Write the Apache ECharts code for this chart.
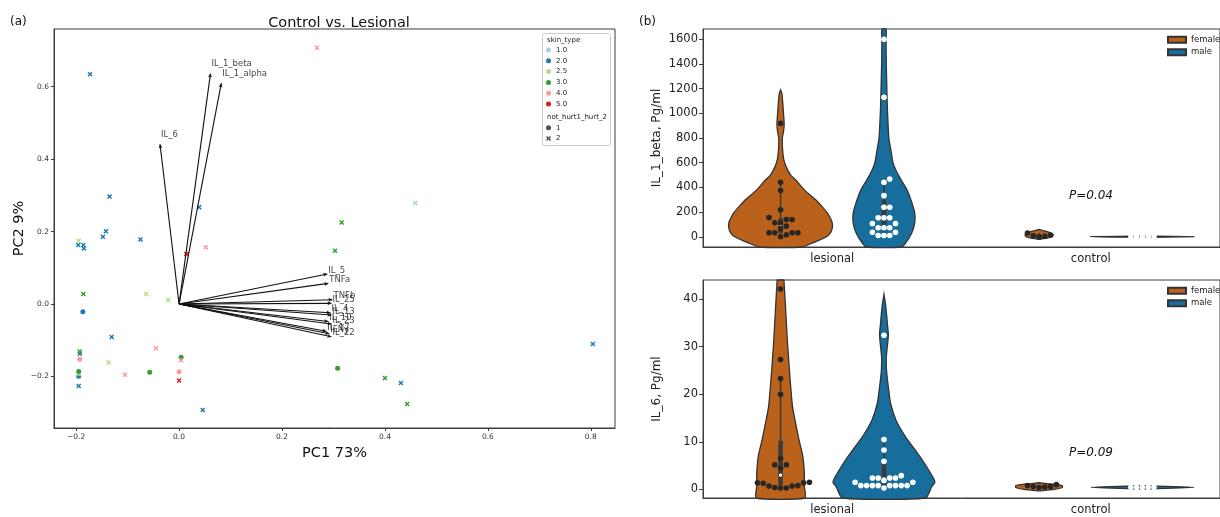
<!DOCTYPE html>
<html>
<head>
<meta charset="utf-8">
<script src="https://cdn.jsdelivr.net/npm/echarts@6/dist/echarts.min.js"></script>
<style>
  html, body { margin: 0; padding: 0; background: #fff; }
  #main { width: 1220px; height: 517px; }
</style>
</head>
<body>
<div id="main"></div>
<script>
// ---------- (a) PCA biplot data ----------
const pc1 = [-0.173, 0.268, -0.135, 0.039, 0.316, 0.459, 0.303, -0.142, -0.148, -0.195,
  -0.196, -0.186, -0.185, -0.075, 0.014, 0.052, -0.186, -0.064, -0.021, -0.187,
  -0.131, -0.045, -0.193, -0.193, -0.193, -0.137, 0.004, 0.004, -0.195, -0.195,
  -0.195, -0.105, -0.057, 0.0, 0.0, -0.195, 0.046, 0.308, 0.400, 0.431, 0.443, 0.804];
const pc2 = [0.634, 0.707, 0.297, 0.267, 0.225, 0.279, 0.147, 0.201, 0.186, 0.175,
  0.163, 0.163, 0.153, 0.178, 0.138, 0.157, 0.028, 0.028, 0.011, -0.021,
  -0.091, -0.122, -0.137, -0.131, -0.152, -0.161, -0.155, -0.147, -0.186, -0.193,
  -0.199, -0.195, -0.188, -0.187, -0.211, -0.226, -0.292, -0.177, -0.204, -0.218, -0.276, -0.110];
const skinType = [2, 4, 2, 2, 3, 1, 3, 2, 2, 2.5,
  2, 2, 2, 2, 5, 4, 3, 2.5, 2.5, 2,
  2, 4, 2, 3, 4, 2.5, 4, 3, 3, 2.5,
  2, 4, 3, 4, 5, 2, 2, 3, 3, 2, 3, 2];
const hurt = [2, 2, 2, 2, 2, 2, 2, 2, 2, 2,
  2, 2, 2, 2, 2, 2, 2, 2, 2, 1,
  2, 2, 2, 2, 1, 2, 2, 1, 1, 2,
  1, 2, 1, 1, 2, 2, 2, 1, 2, 2, 2, 2];
const skinLevels = [1, 2, 2.5, 3, 4, 5];
const hurtLevels = [1, 2];

const loadingNames = ['IL_1_beta', 'IL_1_alpha', 'IL_6', 'IL_5', 'TNFa', 'TNFb', 'IL_25',
  'IL_4', 'IL_13', 'IL_10', 'IL_23', 'IL_17', 'IFNy', 'IL_22'];
const loadingPC1 = [0.061, 0.082, -0.037, 0.288, 0.290, 0.298, 0.296,
  0.294, 0.296, 0.290, 0.296, 0.286, 0.292, 0.296];
const loadingPC2 = [0.636, 0.609, 0.441, 0.083, 0.057, 0.012, 0.002,
  -0.024, -0.030, -0.048, -0.055, -0.075, -0.082, -0.090];

// ---------- (b) violin data ----------
const groups = ['lesional', 'control'];
const sexes = ['female', 'male'];

// IL_1_beta, Pg/ml
const il1bFemaleLes = [920, 441, 374, 218, 156, 140, 140, 113, 113, 86, 64, 32, 32, 32, 32, 15, 0];
const il1bMaleLes = [1600, 1130, 468, 441, 333, 239, 239, 153, 153, 153, 107, 107, 73, 73, 73, 37, 37, 10, 10, 10];
const il1bFemaleCtl = [30, 14, 8, 4, 2];
const il1bMaleCtl = [1, 1, 1, 1, 1];
// IL_6, Pg/ml
const il6FemaleLes = [42.1, 27.3, 23.3, 20, 6.5, 5.2, 5.2, 4.5, 1.5, 1.4, 1.4, 1.3, 0.8, 0.7, 0.7, 0.4, 0.3, 0.3];
const il6MaleLes = [32.4, 10.5, 8.3, 5.9, 2.9, 2.4, 2.4, 2.4, 2.4, 1.9, 1.5, 1.5, 0.8, 0.8, 0.8, 0.8, 0.8, 0.8, 0.8, 0.8, 0.3];
const il6FemaleCtl = [1.0, 0.8, 0.6, 0.6, 0.5, 0.4];
const il6MaleCtl = [0.45, 0.45, 0.45, 0.45, 0.45];

// violin outlines: [value, half width in category units]
const il1bShapeFemaleLes = [[1190, 0], [1160, 0.005], [1100, 0.008], [1040, 0.010], [980, 0.012], [920, 0.014],
  [860, 0.012], [800, 0.007], [740, 0.007], [680, 0.009], [620, 0.013], [560, 0.023], [500, 0.039], [462, 0.058],
  [380, 0.092], [301, 0.135], [250, 0.158], [194, 0.181], [150, 0.193], [113, 0.200], [70, 0.200], [32, 0.193],
  [0, 0.177], [-48, 0.127], [-90, 0.081]];
const il1bShapeMaleLes = [[1720, 0.008], [1600, 0.008], [1400, 0.009], [1130, 0.012], [1000, 0.014], [800, 0.019],
  [700, 0.027], [600, 0.035], [530, 0.048], [462, 0.066], [380, 0.089], [301, 0.104], [194, 0.119], [113, 0.119],
  [32, 0.108], [-48, 0.085], [-90, 0.069]];
const il1bShapeFemaleCtl = [[60, 0], [45, 0.025], [30, 0.045], [15, 0.054], [0, 0.05], [-12, 0.03], [-22, 0]];
const il1bShapeMaleCtl = [[6, 0], [0.5, 0.2], [-5, 0]];
const il6ShapeFemaleLes = [[46, 0.012], [44, 0.013], [38.5, 0.019], [31.5, 0.026], [24.5, 0.035], [17.5, 0.046],
  [14, 0.058], [10.5, 0.071], [7, 0.086], [3.5, 0.092], [0.7, 0.092], [-1.9, 0.094]];
const il6ShapeMaleLes = [[41, 0], [38.5, 0.007], [35, 0.013], [32.4, 0.017], [29.5, 0.012], [27.8, 0.009], [25, 0.010],
  [21.5, 0.017], [18, 0.026], [14.5, 0.047], [11, 0.084], [8.2, 0.122], [5.4, 0.158], [2.6, 0.189], [1.5, 0.197],
  [0.5, 0.184], [-1.9, 0.161]];
const il6ShapeFemaleCtl = [[1.4, 0], [1.1, 0.058], [0.8, 0.09], [0.4, 0.09], [0, 0.058], [-0.3, 0]];
const il6ShapeMaleCtl = [[0.8, 0], [0.45, 0.2], [0.1, 0]];

// inner box: [whisker low, q1, median, q3, whisker high]
const il1bBoxFemaleLes = [0, 32, 100, 150, 441];
const il1bBoxMaleLes = [10, 73, 153, 300, 468];
const il1bBoxFemaleCtl = [2, 4, 8, 14, 30];
const il1bBoxMaleCtl = [1, 1, 1, 1, 1];
const il6BoxFemaleLes = [0.3, 0.9, 3.0, 10.2, 23.3];
const il6BoxMaleLes = [0.3, 0.8, 2.2, 5.5, 10.5];
const il6BoxFemaleCtl = [0.4, 0.5, 0.6, 0.8, 1.0];
const il6BoxMaleCtl = [0.45, 0.45, 0.45, 0.45, 0.45];

const pLabels = ['P=0.04', 'P=0.09'];

// ---------- styling ----------
const FONT = 'DejaVu Sans';
const skinColors = ['#a6cee3', '#1f78b4', '#b2df8a', '#33a02c', '#fb9a99', '#e31a1c'];
const sexColors = { female: '#BA611B', male: '#176D9C' };
const dotColors = { female: '#262626', male: '#ffffff' };
const xSymbol = 'path://M2,0L5,3L8,0L10,2L7,5L10,8L8,10L5,7L2,10L0,8L3,5L0,2Z';
const frame = '#3c3c3c';

const myChart = echarts.init(document.getElementById('main'));

// scatter series, one per skin type / marker
const pcaSeries = [];
skinLevels.forEach((lvl, li) => {
  hurtLevels.forEach((h) => {
    const pts = [];
    pc1.forEach((x, i) => {
      if (skinType[i] === lvl && hurt[i] === h) pts.push([x, pc2[i]]);
    });
    pcaSeries.push({
      type: 'scatter', name: lvl.toFixed(1), xAxisIndex: 0, yAxisIndex: 0,
      symbol: h === 1 ? 'circle' : xSymbol, symbolSize: 5,
      itemStyle: { color: skinColors[li], opacity: 1 }, data: pts, z: 3,
    });
  });
});
// marker legend entries
hurtLevels.forEach((h) => {
  pcaSeries.push({
    type: 'scatter', name: String(h), xAxisIndex: 0, yAxisIndex: 0,
    symbol: h === 1 ? 'circle' : xSymbol, itemStyle: { color: '#222' }, data: [],
  });
});

// loading arrows + names
pcaSeries.push({
  type: 'scatter', name: 'loadings', xAxisIndex: 0, yAxisIndex: 0, symbolSize: 0, z: 4,
  data: loadingNames.map((n, i) => ({
    value: [loadingPC1[i], loadingPC2[i]],
    label: {
      show: true, formatter: n, position: loadingPC2[i] > 0.3 ? [1, -14] : [1, -8],
      fontSize: 8.5, fontFamily: FONT, color: '#111',
    },
  })),
  markLine: {
    silent: true, animation: false, symbol: ['none', 'arrow'], symbolSize: [3, 4],
    lineStyle: { color: '#111', width: 1.1, type: 'solid' }, label: { show: false },
    data: loadingNames.map((n, i) => [{ coord: [0, 0] }, { coord: [loadingPC1[i], loadingPC2[i]] }]),
  },
});

// ---------- violins ----------
const catPx = 519 / 2;

function swarm(values, center, pxY) {
  const d = 5.8;
  const placed = [];
  return values.slice().sort((a, b) => a - b).map((v) => {
    const y = v * pxY;
    let off = 0;
    for (let i = 0; i < 60; i++) {
      off = (i % 2 ? 1 : -1) * Math.ceil(i / 2) * d;
      if (placed.every((p) => (p[0] - off) ** 2 + (p[1] - y) ** 2 >= d * d * 0.98)) break;
    }
    placed.push([off, y]);
    return [center + off / catPx, v];
  });
}

function violinSeries(sex, xAxisIndex, yAxisIndex, center, shape) {
  return {
    type: 'custom', name: sex, xAxisIndex, yAxisIndex, z: 2,
    itemStyle: { color: sexColors[sex], borderColor: '#333', borderWidth: 1 },
    data: [[center, 0]],
    renderItem: (params, api) => {
      const right = shape.map(([v, w]) => api.coord([center + w, v]));
      const left = shape.slice().reverse().map(([v, w]) => api.coord([center - w, v]));
      const pts = echarts.graphic.clipPointsByRect(right.concat(left), params.coordSys);
      return {
        type: 'polygon', shape: { points: pts, smooth: 0.2 },
        style: { fill: sexColors[sex], stroke: '#333', lineWidth: 1.3 },
      };
    },
  };
}

function boxSeries(xAxisIndex, yAxisIndex, center, box) {
  return {
    type: 'custom', xAxisIndex, yAxisIndex, z: 3, silent: true,
    data: [[center, box[2]]],
    renderItem: (params, api) => {
      const a = api.coord([center, box[0]]);
      const b = api.coord([center, box[4]]);
      const c = api.coord([center, box[1]]);
      const d = api.coord([center, box[3]]);
      const m = api.coord([center, box[2]]);
      return {
        type: 'group', children: [
          { type: 'line', shape: { x1: a[0], y1: a[1], x2: b[0], y2: b[1] }, style: { stroke: '#3a3a3a', lineWidth: 1.5 } },
          { type: 'line', shape: { x1: c[0], y1: c[1], x2: d[0], y2: d[1] }, style: { stroke: '#3a3a3a', lineWidth: 4.5 } },
          { type: 'circle', shape: { cx: m[0], cy: m[1], r: 1.6 }, style: { fill: '#fff' } },
        ],
      };
    },
  };
}

function dotSeries(sex, xAxisIndex, yAxisIndex, center, values, pxY) {
  return {
    type: 'scatter', xAxisIndex, yAxisIndex, z: 4, silent: true,
    symbolSize: 5.6, itemStyle: { color: dotColors[sex], opacity: 1 },
    data: swarm(values, center, pxY),
  };
}

function panel(xVal, yIdx, pxY, parts) {
  const out = [];
  parts.forEach((p) => out.push(violinSeries(p.sex, xVal, yIdx, p.center, p.shape)));
  parts.forEach((p) => out.push(boxSeries(xVal, yIdx, p.center, p.box)));
  parts.forEach((p) => out.push(dotSeries(p.sex, xVal, yIdx, p.center, p.values, pxY)));
  return out;
}

const topMin = -83, topMax = 1683, botMin = -1.8, botMax = 44;
const topSeries = panel(2, 1, 218 / (topMax - topMin), [
  { sex: 'female', center: -0.2, values: il1bFemaleLes, shape: il1bShapeFemaleLes, box: il1bBoxFemaleLes },
  { sex: 'male', center: 0.2, values: il1bMaleLes, shape: il1bShapeMaleLes, box: il1bBoxMaleLes },
  { sex: 'female', center: 0.8, values: il1bFemaleCtl, shape: il1bShapeFemaleCtl, box: il1bBoxFemaleCtl },
  { sex: 'male', center: 1.2, values: il1bMaleCtl, shape: il1bShapeMaleCtl, box: il1bBoxMaleCtl },
]);
const botSeries = panel(4, 2, 218 / (botMax - botMin), [
  { sex: 'female', center: -0.2, values: il6FemaleLes, shape: il6ShapeFemaleLes, box: il6BoxFemaleLes },
  { sex: 'male', center: 0.2, values: il6MaleLes, shape: il6ShapeMaleLes, box: il6BoxMaleLes },
  { sex: 'female', center: 0.8, values: il6FemaleCtl, shape: il6ShapeFemaleCtl, box: il6BoxFemaleCtl },
  { sex: 'male', center: 1.2, values: il6MaleCtl, shape: il6ShapeMaleCtl, box: il6BoxMaleCtl },
]);

// ---------- axes helpers ----------
const fmtPC = (v) => (v < 0 ? '\u2212' : '') + Math.abs(v).toFixed(1);
const smallLabel = { fontSize: 7.5, fontFamily: FONT, color: '#333', margin: 5 };
const bigLabel = { fontSize: 11.5, fontFamily: FONT, color: '#222', margin: 5 };

function catAxis(gridIndex) {
  return {
    type: 'category', gridIndex, data: groups, boundaryGap: true,
    axisLine: { onZero: false, lineStyle: { color: frame, width: 1 } },
    axisTick: { alignWithLabel: true, length: 4, lineStyle: { color: frame } },
    axisLabel: Object.assign({}, bigLabel, { margin: 6 }),
  };
}
function hiddenX(gridIndex) {
  return { type: 'value', gridIndex, min: -0.5, max: 1.5, show: false, axisLine: { onZero: false } };
}
function violinY(gridIndex, min, max, splitNumber, name) {
  return {
    type: 'value', gridIndex, min, max, splitNumber, name,
    nameLocation: 'middle', nameGap: 40,
    nameTextStyle: { fontSize: 12, fontFamily: FONT, color: '#222' },
    splitLine: { show: false },
    axisLine: { show: true, onZero: false, lineStyle: { color: frame, width: 1 } },
    axisTick: { show: true, length: 4, lineStyle: { color: frame } },
    axisLabel: Object.assign({}, bigLabel, {
      showMinLabel: false, showMaxLabel: false, formatter: (v) => String(v),
    }),
  };
}

const option = {
  animation: false,
  backgroundColor: '#fff',
  title: {
    text: 'Control vs. Lesional', left: 334, top: 11, textAlign: 'center',
    textStyle: { fontSize: 14.5, fontWeight: 'normal', fontFamily: FONT, color: '#111' },
  },
  grid: [
    { left: 54, top: 29, width: 561, height: 399, show: true, borderColor: frame, borderWidth: 1 },
    { left: 703, top: 29, width: 519, height: 218, show: true, borderColor: frame, borderWidth: 1 },
    { left: 703, top: 280, width: 519, height: 218, show: true, borderColor: frame, borderWidth: 1 },
  ],
  xAxis: [
    {
      type: 'value', gridIndex: 0, min: -0.243, max: 0.847, splitNumber: 5,
      name: 'PC1 73%', nameLocation: 'middle', nameGap: 14,
      nameTextStyle: { fontSize: 14.5, fontFamily: FONT, color: '#111' },
      splitLine: { show: false },
      axisLine: { onZero: false, lineStyle: { color: frame } },
      axisTick: { length: 3, lineStyle: { color: frame } },
      axisLabel: Object.assign({}, smallLabel, { formatter: fmtPC, showMinLabel: false, showMaxLabel: false }),
    },
    catAxis(1), hiddenX(1), catAxis(2), hiddenX(2),
  ],
  yAxis: [
    {
      type: 'value', gridIndex: 0, min: -0.342, max: 0.759, splitNumber: 5,
      name: 'PC2 9%', nameLocation: 'middle', nameGap: 25,
      nameTextStyle: { fontSize: 14.5, fontFamily: FONT, color: '#111' },
      splitLine: { show: false },
      axisLine: { show: true, onZero: false, lineStyle: { color: frame } },
      axisTick: { show: true, length: 3, lineStyle: { color: frame } },
      axisLabel: Object.assign({}, smallLabel, { formatter: fmtPC, showMinLabel: false, showMaxLabel: false }),
    },
    violinY(1, topMin, topMax, 8, 'IL_1_beta, Pg/ml'),
    violinY(2, botMin, botMax, 5, 'IL_6, Pg/ml'),
  ],
  legend: [
    {
      data: skinLevels.map((l) => ({ name: l.toFixed(1), icon: 'circle' })),
      orient: 'vertical', left: 546, top: 45.5, padding: 0, itemGap: 1.8,
      itemWidth: 5, itemHeight: 5, selectedMode: false, z: 11,
      textStyle: { fontSize: 7, fontFamily: FONT, color: '#222', lineHeight: 9 },
    },
    {
      data: [{ name: '1', icon: 'circle' }, { name: '2', icon: xSymbol }],
      orient: 'vertical', left: 546, top: 123.2, padding: 0, itemGap: 1.8,
      itemWidth: 5, itemHeight: 5, selectedMode: false, z: 11,
      textStyle: { fontSize: 7, fontFamily: FONT, color: '#222', lineHeight: 9 },
    },
    {
      data: sexes.map((s) => ({ name: s, icon: 'rect' })),
      orient: 'vertical', left: 1167, top: 35, padding: 0, itemGap: 3,
      itemWidth: 18, itemHeight: 6, selectedMode: false,
      textStyle: { fontSize: 8.5, fontFamily: FONT, color: '#222', lineHeight: 9.5 },
    },
    {
      data: sexes.map((s) => ({ name: s, icon: 'rect' })),
      orient: 'vertical', left: 1167, top: 286, padding: 0, itemGap: 3,
      itemWidth: 18, itemHeight: 6, selectedMode: false,
      textStyle: { fontSize: 8.5, fontFamily: FONT, color: '#222', lineHeight: 9.5 },
    },
  ],
  graphic: [
    { type: 'rect', z: 10, shape: { x: 542.5, y: 33.5, width: 68, height: 112, r: 2 }, style: { fill: '#fff', stroke: '#cccccc', lineWidth: 1 } },
    { type: 'text', z: 11, x: 547, y: 40, style: { text: 'skin_type', fontSize: 7, fontFamily: FONT, fill: '#222', verticalAlign: 'middle' } },
    { type: 'text', z: 11, x: 547, y: 116.7, style: { text: 'not_hurt1_hurt_2', fontSize: 7, fontFamily: FONT, fill: '#222', verticalAlign: 'middle' } },
    { type: 'text', x: 10, y: 22, style: { text: '(a)', fontSize: 12, fontFamily: FONT, fill: '#111', verticalAlign: 'middle' } },
    { type: 'text', x: 639, y: 22, style: { text: '(b)', fontSize: 12, fontFamily: FONT, fill: '#111', verticalAlign: 'middle' } },
    { type: 'text', x: 1091, y: 196, style: { text: pLabels[0], fontSize: 12, fontStyle: 'italic', fontFamily: FONT, fill: '#111', align: 'center', verticalAlign: 'middle' } },
    { type: 'text', x: 1091, y: 453, style: { text: pLabels[1], fontSize: 12, fontStyle: 'italic', fontFamily: FONT, fill: '#111', align: 'center', verticalAlign: 'middle' } },
  ],
  series: [...pcaSeries, ...topSeries, ...botSeries],
};

myChart.setOption(option);
</script>
</body>
</html>
